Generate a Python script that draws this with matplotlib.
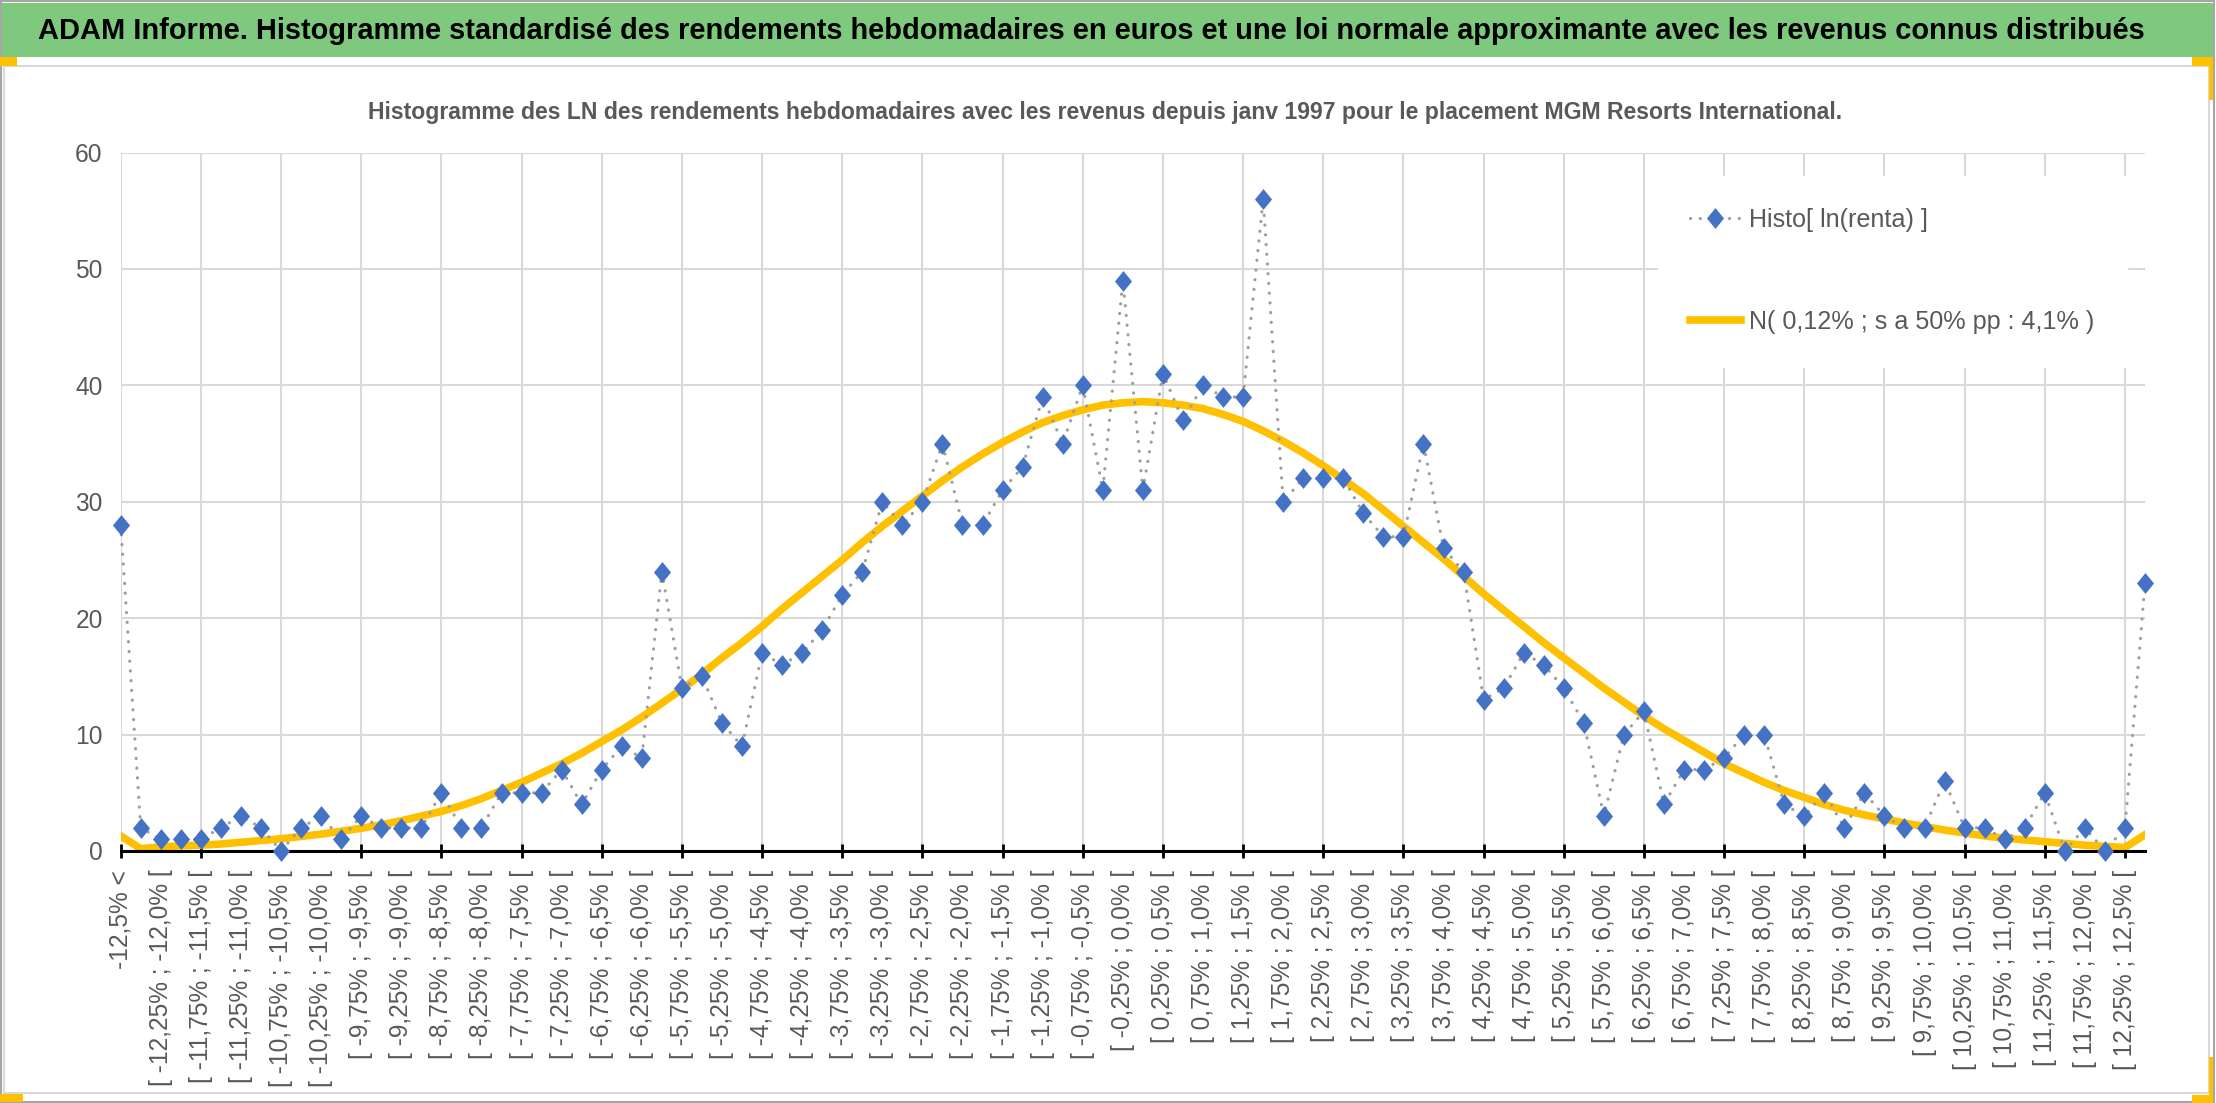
import matplotlib
matplotlib.use("Agg")
import matplotlib.pyplot as plt
from matplotlib import font_manager
from matplotlib.patches import Rectangle

W, H, DPI = 2216, 1103, 100

# counts per class: "-12,5% <", 100 classes of 0,25%, then "> 12,5%"
counts = [28, 2, 1, 1, 1, 2, 3, 2, 0, 2,
          3, 1, 3, 2, 2, 2, 5, 2, 2, 5,
          5, 5, 7, 4, 7, 9, 8, 24, 14, 15,
          11, 9, 17, 16, 17, 19, 22, 24, 30, 28,
          30, 35, 28, 28, 31, 33, 39, 35, 40, 31,
          49, 31, 41, 37, 40, 39, 39, 56, 30, 32,
          32, 32, 29, 27, 27, 35, 26, 24, 13, 14,
          17, 16, 14, 11, 3, 10, 12, 4, 7, 7,
          8, 10, 10, 4, 3, 5, 2, 5, 3, 2,
          2, 6, 2, 2, 1, 2, 5, 0, 2, 0,
          2, 23]

# yellow curve
normal_fit = [1.3, 0.2, 0.35, 0.45, 0.5, 0.6, 0.75, 0.9, 1.05, 1.25,
              1.45, 1.7, 1.95, 2.25, 2.6, 3.0, 3.4, 3.9, 4.5, 5.2,
              5.9, 6.7, 7.5, 8.4, 9.4, 10.4, 11.5, 12.7, 13.9, 15.2,
              16.6, 17.9, 19.3, 20.8, 22.2, 23.6, 25.0, 26.5, 27.9, 29.2,
              30.5, 31.8, 33.0, 34.1, 35.1, 36.0, 36.8, 37.4, 37.9, 38.3,
              38.5, 38.6, 38.5, 38.3, 38.0, 37.5, 36.9, 36.1, 35.2, 34.2,
              33.1, 31.9, 30.7, 29.3, 27.9, 26.5, 25.1, 23.6, 22.1, 20.7,
              19.3, 17.9, 16.6, 15.3, 14.0, 12.8, 11.6, 10.5, 9.5, 8.5,
              7.5, 6.7, 5.9, 5.2, 4.6, 4.0, 3.5, 3.1, 2.75, 2.4,
              2.1, 1.8, 1.55, 1.3, 1.1, 0.95, 0.8, 0.65, 0.5, 0.4,
              0.3, 1.4]

title = ("ADAM Informe. Histogramme standardisé des rendements hebdomadaires en euros "
         "et une loi normale approximante avec les revenus connus distribués")
subtitle = ("Histogramme des LN des rendements hebdomadaires avec les revenus depuis "
            "janv 1997 pour le placement MGM Resorts International.")
lab_histo = "Histo[ ln(renta) ]"
lab_norm = "N( 0,12% ; s a 50% pp : 4,1% )"


def pct(v):
    s = f"{round(v, 2) + 0.0:.2f}"
    if s.endswith("0"):
        s = s[:-1]
    return s.replace(".", ",") + "%"


cats = ["-12,5% <"]
for k in range(100):
    lo = -12.5 + 0.25 * k
    cats.append(f"[ {pct(lo)} ; {pct(lo + 0.25)} [")
cats.append("> 12,5%")

names = {f.name for f in font_manager.fontManager.ttflist}
narrow = "Liberation Sans Narrow" if "Liberation Sans Narrow" in names else "Liberation Sans"
regular = "Liberation Sans"
grey_txt = "#595959"

fig = plt.figure(figsize=(W / DPI, H / DPI), dpi=DPI)


def frect(x0, y0, x1, y1, **kw):
    fig.patches.append(Rectangle((x0 / W, 1 - y1 / H), (x1 - x0) / W, (y1 - y0) / H,
                                 transform=fig.transFigure, **kw))


# frame, banner and the little orange handles
frect(4, 66, 2209, 1093, fill=False, ec="#D9D9D9", lw=1.5)
frect(2, 3, 2213, 57, fc="#7FC97F", ec="none")
frect(1, 1, 2214, 1102, fill=False, ec="#A6A6A6", lw=1.5)
for r in [(0, 57, 17, 66), (2192, 57, 2213, 66), (2209, 57, 2213, 100),
          (2209, 1057, 2213, 1103), (2192, 1095, 2213, 1103), (0, 1094, 23, 1102)]:
    frect(*r, fc="#FFC000", ec="none")

x0, x1, y_top, y_bot = 120.7, 2145, 152.5, 851
ax = fig.add_axes([x0 / W, 1 - y_bot / H, (x1 - x0) / W, (y_bot - y_top) / H])

xs = list(range(len(counts)))
diamond = [(0, 1), (0.82, 0), (0, -1), (-0.82, 0)]
ax.plot(xs, normal_fit, color="#FFC000", lw=5.5, solid_joinstyle="round",
        zorder=2, label=lab_norm)
ax.plot(xs, counts, color="#9E9E9E", lw=2.3, linestyle=(0, (0.05, 3.0)),
        dash_capstyle="round", marker=diamond, ms=15, mfc="#4472C4", mec="#4472C4",
        mew=0, zorder=3, clip_on=False, label=lab_histo)

ax.set_xlim(0, len(counts) - 1)
ax.set_ylim(0, 60)
ax.set_yticks(range(0, 61, 10))

for s in ["top", "right", "left"]:
    ax.spines[s].set_visible(False)
ax.spines["bottom"].set_color("black")
ax.spines["bottom"].set_linewidth(2.2)
ax.spines["bottom"].set_zorder(2.5)

# sizes fitted to the reference widths
fig.canvas.draw()
rend = fig.canvas.get_renderer()


def fit_size(text, family, weight, target, base=20):
    t = fig.text(0, 0, text, fontsize=base, family=family, fontweight=weight)
    w = t.get_window_extent(rend).width
    t.remove()
    return base * target / w


tick_fs = fit_size("[ -12,25% ; -12,0% [", regular, "normal", 217)
leg_fs = fit_size(lab_norm, narrow, "normal", 346)

ax.xaxis.remove_overlapping_locs = False
ax.set_xticks(xs[::2], cats[::2])
ax.set_xticks(range(0, len(counts) - 1, 4), minor=True)
ax.tick_params(axis="x", which="major", length=0, pad=13.5, labelrotation=90,
               labelcolor=grey_txt, labelsize=tick_fs)
for lb in ax.get_xticklabels():
    lb.set_family(regular)
ax.tick_params(axis="x", which="minor", direction="inout", length=10, width=2,
               color="black")
ax.tick_params(axis="y", length=0, pad=13, labelcolor=grey_txt, labelsize=tick_fs)
for lb in ax.get_yticklabels():
    lb.set_family(regular)

ax.grid(axis="y", color="#D9D9D9", lw=1.5, zorder=0)
ax.xaxis.grid(False, which="major")
ax.xaxis.grid(True, which="minor", color="#D9D9D9", lw=1.5)
ax.set_axisbelow(True)

handles, labels = ax.get_legend_handles_labels()
leg = ax.legend(handles[::-1], labels[::-1], loc="upper left",
                bbox_to_anchor=(1645 / W, 1 - 163 / H), bbox_transform=fig.transFigure,
                prop={"family": narrow, "size": leg_fs}, frameon=True, fancybox=False,
                facecolor="white", edgecolor="white", framealpha=1, borderpad=1.3,
                handlelength=2.0, handletextpad=0.35, labelspacing=3.1, numpoints=1)
for t in leg.get_texts():
    t.set_color(grey_txt)

t1 = fig.text(1091 / W, 1 - 31 / H, title, ha="center", va="center", color="black",
              family=narrow, fontweight="bold", fontsize=30)
t2 = fig.text(1105 / W, 1 - 112 / H, subtitle, ha="center", va="center", color=grey_txt,
              family=narrow, fontweight="bold", fontsize=18)
for t, target in [(t1, 2111), (t2, 1481)]:
    w = t.get_window_extent(rend).width
    t.set_fontsize(t.get_fontsize() * target / w)

fig.savefig("out.png", dpi=DPI, facecolor="white")
